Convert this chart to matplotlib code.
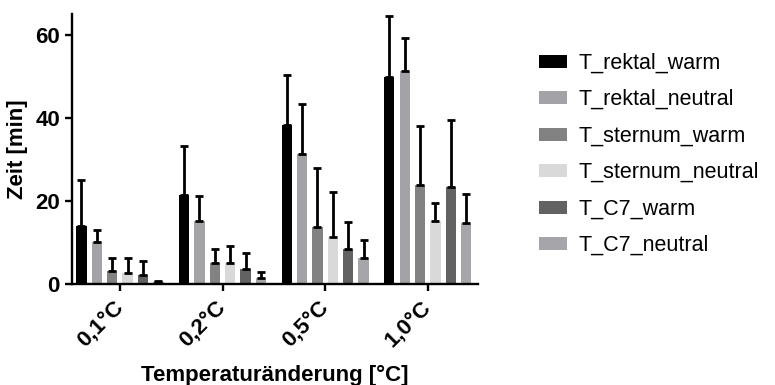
import matplotlib.pyplot as plt
import numpy as np

plt.rcParams['font.family'] = ['Liberation Sans', 'DejaVu Sans']

categories = ['0,1°C', '0,2°C', '0,5°C', '1,0°C']
series = ['T_rektal_warm', 'T_rektal_neutral', 'T_sternum_warm',
          'T_sternum_neutral', 'T_C7_warm', 'T_C7_neutral']
colors = ['#000000', '#a2a2a7', '#828282', '#d9d9d9', '#626262', '#a5a5aa']

# mean values per series (rows) for each temperature step (columns)
means = [
    [13.9, 21.4, 38.4, 50.0],
    [10.0, 15.1, 31.4, 51.3],
    [3.0, 4.9, 13.7, 23.8],
    [2.6, 4.9, 11.2, 15.0],
    [2.0, 3.6, 8.3, 23.4],
    [0.4, 1.25, 6.2, 14.6],
]
# upper end of the error bars (mean + SD)
tops = [
    [24.9, 33.2, 50.4, 64.7],
    [13.0, 21.1, 43.4, 59.2],
    [6.2, 8.3, 27.8, 38.1],
    [6.1, 9.1, 22.2, 19.4],
    [5.4, 7.3, 14.9, 39.4],
    [0.6, 2.9, 10.5, 21.5],
]

fig = plt.figure(figsize=(7.75, 3.85), dpi=100)
ax = fig.add_axes([0.0925, 0.2636, 0.5243, 0.699])

x = np.arange(len(categories))
pitch = 0.15
width = 0.10
for i, (name, m, t, c) in enumerate(zip(series, means, tops, colors)):
    pos = x + (i - 2.5) * pitch
    m = np.array(m)
    err = np.array(t) - m
    ax.bar(pos, m, width, color=c, label=name, zorder=2)
    ax.errorbar(pos, m, yerr=[np.zeros_like(err), err], fmt='none',
                ecolor='black', elinewidth=2, capsize=3.2, capthick=2, zorder=3)

ax.set_xlim(-0.47, 3.49)
ax.set_ylim(0, 65)
ax.set_yticks([0, 20, 40, 60])
ax.set_xticks(x)
ax.set_xticklabels(categories, rotation=45, ha='right', va='center',
                   rotation_mode='anchor', fontsize=16, fontweight='bold')
ax.tick_params(axis='x', pad=10)
for lab in ax.get_yticklabels():
    lab.set_fontsize(16)
    lab.set_fontweight('bold')

for s in ['top', 'right']:
    ax.spines[s].set_visible(False)
for s in ['left', 'bottom']:
    ax.spines[s].set_linewidth(1.7)
ax.tick_params(width=1.7, length=5)

ax.set_ylabel('Zeit [min]', fontsize=16, fontweight='bold', labelpad=5)
ax.set_xlabel('Temperaturänderung [°C]', fontsize=16, fontweight='bold', labelpad=10)

fig.legend(loc='center left', bbox_to_anchor=(0.695, 0.599), frameon=False,
           fontsize=15.5, borderpad=0, borderaxespad=0, handlelength=1.3,
           handleheight=0.55, handletextpad=0.55, labelspacing=0.72)

fig.savefig('out.png', dpi=100)
